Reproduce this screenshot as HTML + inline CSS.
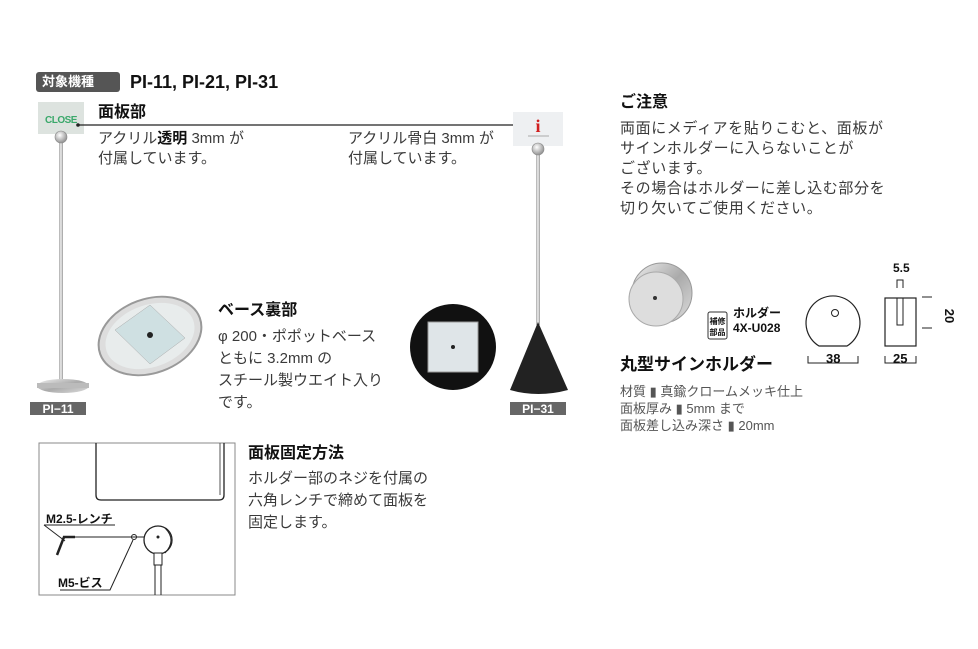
<!DOCTYPE html>
<html><head><meta charset="utf-8"><style>
body{margin:0;width:978px;height:649px;background:#fff;position:relative;overflow:hidden;font-family:"Liberation Sans","Noto Sans CJK JP",sans-serif;color:#333}
.t{position:absolute;white-space:nowrap;font-size:15px;line-height:20px;color:#3a3a3a}
.b{position:absolute;white-space:nowrap;font-weight:bold;color:#111;font-size:16px;line-height:20px}
svg{position:absolute;left:0;top:0}
</style></head><body>
<svg width="978" height="649" viewBox="0 0 978 649">
<defs>
<radialGradient id="ball" cx="40%" cy="35%" r="60%"><stop offset="0" stop-color="#fff"/><stop offset="1" stop-color="#999"/></radialGradient>
<linearGradient id="met" x1="0" y1="0" x2="1" y2="1"><stop offset="0" stop-color="#f0f0f0"/><stop offset=".5" stop-color="#aaa"/><stop offset="1" stop-color="#ddd"/></linearGradient>
<linearGradient id="pole" x1="0" x2="1"><stop offset="0" stop-color="#aaa"/><stop offset=".5" stop-color="#eee"/><stop offset="1" stop-color="#999"/></linearGradient>
</defs>
<rect x="36" y="72" width="84" height="20" rx="3" fill="#555"/>
<rect x="38" y="102" width="46" height="32" fill="#dde3df"/>
<text x="61" y="123" text-anchor="middle" font-family="Liberation Sans" font-weight="bold" font-size="10" fill="#3aa86a" letter-spacing="-0.5">CLOSE</text>
<rect x="59" y="138" width="4" height="245" fill="url(#pole)"/>
<circle cx="61" cy="137" r="6" fill="url(#ball)" stroke="#888" stroke-width=".6"/>
<ellipse cx="63" cy="386" rx="26" ry="7" fill="url(#met)"/>
<rect x="37" y="383" width="52" height="5" fill="#bbb"/>
<rect x="30" y="402" width="56" height="13" fill="#666"/>
<text x="58" y="413" text-anchor="middle" font-family="Liberation Sans" font-weight="bold" font-size="12" fill="#fff">PI−11</text>
<line x1="78" y1="125" x2="535" y2="125" stroke="#222" stroke-width="1.2"/>
<circle cx="78" cy="125" r="1.8" fill="#222"/><circle cx="535" cy="125" r="1.8" fill="#222"/>
<rect x="513" y="112" width="50" height="34" fill="#eef0f2"/>
<text x="538" y="132" text-anchor="middle" font-family="Liberation Serif" font-weight="bold" font-size="18" fill="#d02020">i</text>
<line x1="528" y1="136" x2="549" y2="136" stroke="#aaa"/>
<rect x="536" y="150" width="4" height="175" fill="url(#pole)"/>
<circle cx="538" cy="149" r="6" fill="url(#ball)" stroke="#888" stroke-width=".6"/>
<path d="M538 322 L510 390 Q538 398 568 390 Z" fill="#222"/>
<rect x="510" y="402" width="56" height="13" fill="#666"/>
<text x="538" y="413" text-anchor="middle" font-family="Liberation Sans" font-weight="bold" font-size="12" fill="#fff">PI−31</text>
<ellipse cx="150" cy="336" rx="53" ry="37" transform="rotate(-20 150 336)" fill="#ddd" stroke="#999" stroke-width="2"/>
<ellipse cx="150" cy="336" rx="46" ry="31" transform="rotate(-20 150 336)" fill="#e8ecec"/>
<polygon points="115,330 150,305 185,338 150,364" fill="#cfe0e2" stroke="#aaa" stroke-width=".5"/>
<circle cx="150" cy="335" r="3" fill="#222"/>
<circle cx="453" cy="347" r="43" fill="#111"/>
<rect x="428" y="322" width="50" height="50" fill="#dfe5e8" stroke="#999"/>
<circle cx="453" cy="347" r="2" fill="#222"/>
<circle cx="662" cy="293" r="30" fill="url(#met)" stroke="#999"/>
<circle cx="656" cy="299" r="27" fill="#ddd" stroke="#aaa"/>
<circle cx="655" cy="298" r="2" fill="#333"/>
<rect x="708" y="312" width="19" height="27" rx="2" fill="#fff" stroke="#333"/>
<text x="717.5" y="324" text-anchor="middle" font-size="8" font-weight="bold" fill="#111" font-family="Liberation Sans,Noto Sans CJK JP,sans-serif">補修</text>
<text x="717.5" y="335" text-anchor="middle" font-size="8" font-weight="bold" fill="#111" font-family="Liberation Sans,Noto Sans CJK JP,sans-serif">部品</text>
<path d="M819 346 A27 27 0 1 1 847 346 Z" fill="none" stroke="#222" stroke-width="1.2"/>
<circle cx="835" cy="313" r="3.5" fill="none" stroke="#222"/>
<path d="M808 356 V363 H858 V356" fill="none" stroke="#222"/>
<rect x="885" y="298" width="31" height="48" fill="none" stroke="#222" stroke-width="1.2"/>
<path d="M897 298 V325 H903 V298" fill="none" stroke="#222"/>
<path d="M897 288 V280 H903 V288" fill="none" stroke="#222"/>
<path d="M885 356 V363 H916 V356" fill="none" stroke="#222"/>
<path d="M922 297 H932 M922 328 H932" stroke="#222"/>
<text x="950" y="313" text-anchor="middle" font-family="Liberation Sans" font-weight="bold" font-size="13" fill="#111" transform="rotate(90 946 312)">20</text>
<rect x="39" y="443" width="196" height="152" fill="none" stroke="#888"/>
<path d="M96 443 V495 Q96 500 101 500 H219 Q224 500 224 495 V443" fill="none" stroke="#222" stroke-width="1.3"/>
<path d="M220 443 V495" stroke="#555"/>
<line x1="44" y1="525" x2="115" y2="525" stroke="#222"/>
<line x1="44" y1="525" x2="65" y2="541" stroke="#222"/>
<line x1="64" y1="537" x2="57" y2="555" stroke="#222" stroke-width="2.5"/>
<line x1="63" y1="537" x2="75" y2="537" stroke="#222" stroke-width="2.5"/>
<line x1="75" y1="537" x2="157" y2="537" stroke="#222"/>
<circle cx="134" cy="537" r="2.5" fill="none" stroke="#222"/>
<path d="M133 540 L110 590 H60" fill="none" stroke="#222"/>
<circle cx="158" cy="540" r="14" fill="#fff" stroke="#222" stroke-width="1.3"/>
<path d="M165 528 Q177 540 165 553" fill="none" stroke="#222"/>
<circle cx="158" cy="537" r="1.5" fill="#222"/>
<rect x="154" y="553" width="8" height="12" fill="#fff" stroke="#222"/>
<path d="M155 565 V595 M161 565 V595" stroke="#222"/>
</svg>
<div class="b" style="left:42px;top:72px;font-size:13px;color:#fff">対象機種</div>
<div class="b" style="left:130px;top:72px;font-size:18px;color:#111">PI-11, PI-21, PI-31</div>
<div class="b" style="left:98px;top:103px">面板部</div>
<div class="t" style="left:98px;top:129px">アクリル<b style="color:#111">透明</b> 3mm が</div>
<div class="t" style="left:98px;top:149px">付属しています。</div>
<div class="t" style="left:348px;top:129px">アクリル骨白 3mm が</div>
<div class="t" style="left:348px;top:149px">付属しています。</div>
<div class="b" style="left:218px;top:301px">ベース裏部</div>
<div class="t" style="left:218px;top:326px;line-height:22px">φ 200・ポポットベース<br>ともに 3.2mm の<br>スチール製ウエイト入り<br>です。</div>
<div class="b" style="left:620px;top:93px">ご注意</div>
<div class="t" style="left:620px;top:119px;letter-spacing:.6px">両面にメディアを貼りこむと、面板が<br>サインホルダーに入らないことが<br>ございます。<br>その場合はホルダーに差し込む部分を<br>切り欠いてご使用ください。</div>
<div class="b" style="left:733px;top:306px;font-size:12px;line-height:15px">ホルダー<br>4X-U028</div>
<div class="b" style="left:620px;top:355px;font-size:17px">丸型サインホルダー</div>
<div class="t" style="left:620px;top:383px;font-size:13px;line-height:17px;color:#555">材質 ▮ 真鍮クロームメッキ仕上<br>面板厚み ▮ 5mm まで<br>面板差し込み深さ ▮ 20mm</div>
<div class="b" style="left:893px;top:258px;font-size:12px">5.5</div>
<div class="b" style="left:826px;top:349px;font-size:13px">38</div>
<div class="b" style="left:893px;top:349px;font-size:13px">25</div>
<div class="b" style="left:248px;top:444px">面板固定方法</div>
<div class="t" style="left:248px;top:468px;line-height:22px">ホルダー部のネジを付属の<br>六角レンチで締めて面板を<br>固定します。</div>
<div class="b" style="left:46px;top:509px;font-size:12px">M2.5-レンチ</div>
<div class="b" style="left:58px;top:573px;font-size:12px">M5-ビス</div>
</body></html>
